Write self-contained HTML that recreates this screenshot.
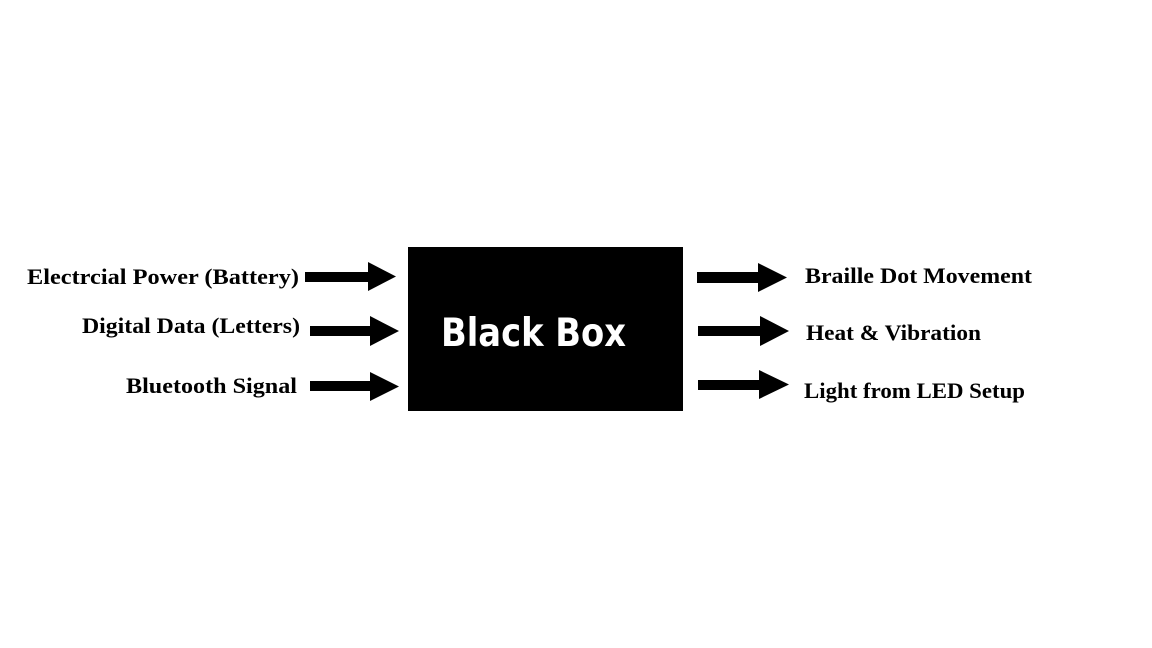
<!DOCTYPE html>
<html><head><meta charset="utf-8"><style>
html,body{margin:0;padding:0;background:#fff;}
svg{display:block;}
.l{font-family:"Liberation Serif",serif;font-weight:bold;font-size:22px;fill:#000;}
.b{font-family:"DejaVu Sans","Liberation Sans",sans-serif;font-weight:bold;font-size:39px;fill:#fff;}
</style></head><body>
<svg width="1152" height="648" viewBox="0 0 1152 648" xmlns="http://www.w3.org/2000/svg">
<rect width="1152" height="648" fill="#fff"/>
<rect x="408" y="247" width="275" height="164" fill="#000"/>
<text class="b" x="441" y="346" textLength="185" lengthAdjust="spacingAndGlyphs">Black Box</text>
<g fill="#000">
<polygon points="305,272 368,272 368,262 396,276.5 368,291 368,282 305,282"/>
<polygon points="310,326 370,326 370,316 399,331 370,346 370,336 310,336"/>
<polygon points="310,381 370,381 370,372 399,386.5 370,401 370,391 310,391"/>
<polygon points="697,272 758,272 758,263 787,277.5 758,292 758,283 697,283"/>
<polygon points="698,326 760,326 760,316 789,331 760,346 760,336 698,336"/>
<polygon points="698,380 759,380 759,370 789,384.5 759,399 759,390 698,390"/>
</g>
<text class="l" x="27" y="284" textLength="272" lengthAdjust="spacingAndGlyphs">Electrcial Power (Battery)</text>
<text class="l" x="82" y="333" textLength="218" lengthAdjust="spacingAndGlyphs">Digital Data (Letters)</text>
<text class="l" x="126" y="393" textLength="171" lengthAdjust="spacingAndGlyphs">Bluetooth Signal</text>
<text class="l" x="805" y="283" textLength="227" lengthAdjust="spacingAndGlyphs">Braille Dot Movement</text>
<text class="l" x="806" y="340" textLength="175" lengthAdjust="spacingAndGlyphs">Heat &amp; Vibration</text>
<text class="l" x="804" y="398" textLength="221" lengthAdjust="spacingAndGlyphs">Light from LED Setup</text>
</svg>
</body></html>
